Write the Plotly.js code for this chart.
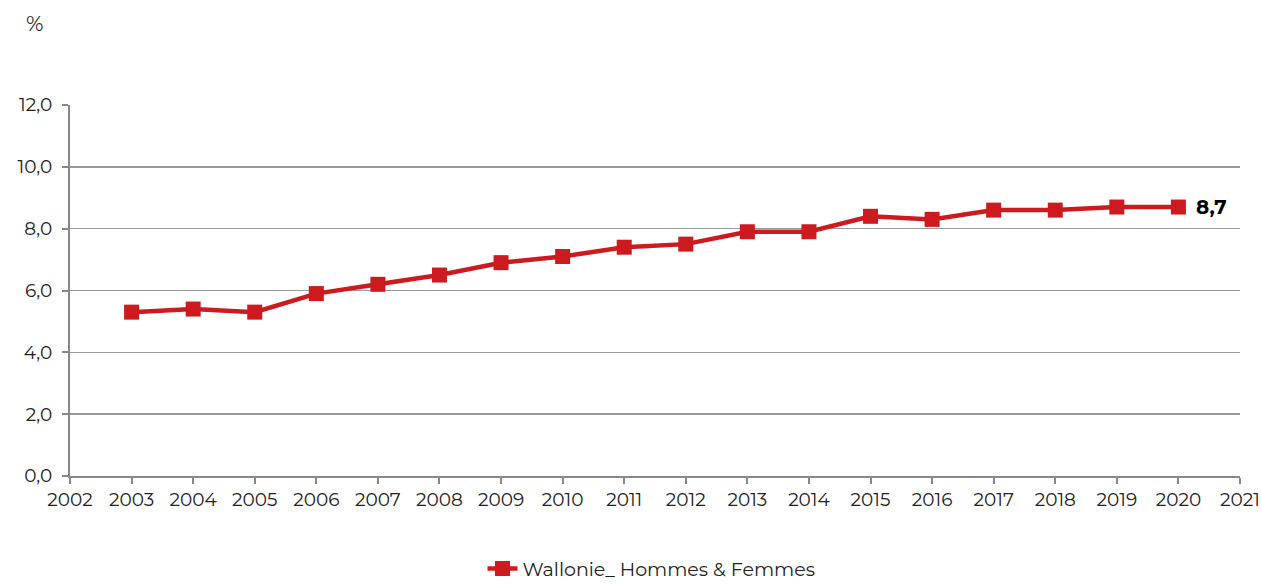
<!DOCTYPE html>
<html><head><meta charset="utf-8">
<script src="https://cdn.plot.ly/plotly-3.0.1.min.js"></script>
<style>body{margin:0}#c{width:1261px;height:586px}</style>
</head><body><div id="c"></div>
<script>
const years = [2003,2004,2005,2006,2007,2008,2009,2010,2011,2012,2013,2014,2015,2016,2017,2018,2019,2020];
const values = [5.3,5.4,5.3,5.9,6.2,6.5,6.9,7.1,7.4,7.5,7.9,7.9,8.4,8.3,8.6,8.6,8.7,8.7];
const seriesName = 'Wallonie_ Hommes & Femmes';
const yTicks = [0,2,4,6,8,10,12];
const xTicks = [2002,2003,2004,2005,2006,2007,2008,2009,2010,2011,2012,2013,2014,2015,2016,2017,2018,2019,2020,2021];
const red = '#CC1A1F';
const font = 'Montserrat, "Open Sans", sans-serif';
const last = years.length-1;
Plotly.newPlot('c', [{
  x: years, y: values, name: seriesName, type: 'scatter', mode: 'lines+markers',
  line: {color: red, width: 4.5},
  marker: {symbol: 'square', size: 15, color: red}
}], {
  width: 1261, height: 586,
  separators: ', ',
  margin: {l: 70, r: 21, t: 105, b: 110, autoexpand: false},
  font: {family: font, size: 18.5, color: '#222'},
  plot_bgcolor: '#fff', paper_bgcolor: '#fff',
  showlegend: true,
  legend: {orientation: 'h', x: 0.497, xanchor: 'center', y: -0.25, yanchor: 'middle',
           font: {size: 19, color: '#222'}},
  xaxis: {range: [2002, 2021], tickvals: xTicks, ticktext: xTicks.map(String), showgrid: false,
          showline: true, linecolor: '#888', linewidth: 2, ticks: 'outside', tickcolor: '#888', ticklen: 6, tickwidth: 2,
          zeroline: false, fixedrange: true, automargin: false},
  yaxis: {range: [0, 12], tickvals: yTicks, ticktext: yTicks.map(v => v.toFixed(1).replace('.', ',')),
          showgrid: true, gridcolor: '#999', gridwidth: 1.5, showline: true, linecolor: '#888', linewidth: 2,
          ticks: 'outside', tickcolor: '#888', ticklen: 6, tickwidth: 2, ticklabelstandoff: 6,
          zeroline: false, fixedrange: true, automargin: false},
  annotations: [
    {xref: 'paper', yref: 'paper', x: -0.03, y: 1.22, text: '%', showarrow: false, xanchor: 'center', yanchor: 'middle', font: {size: 21, color: '#222'}},
    {x: years[last], y: values[last], text: '<b>' + values[last].toFixed(1).replace('.', ',') + '</b>', showarrow: false,
     xanchor: 'left', xshift: 16, yanchor: 'middle', font: {size: 20, color: '#000'}}
  ]
}, {displayModeBar: false, staticPlot: true});
</script></body></html>
